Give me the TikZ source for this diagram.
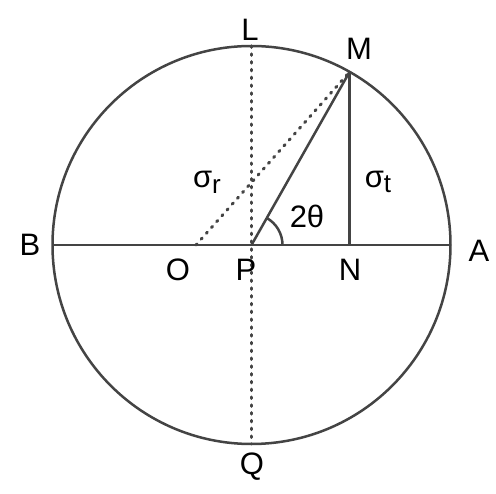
\documentclass[tikz,border=0pt]{standalone}
\usepackage{fontspec}
\setmainfont{Liberation Sans}
\usetikzlibrary{calc}
\definecolor{ink}{HTML}{444444}
\tikzset{
  lbl/.style={font=\fontsize{31}{31}\selectfont, inner sep=0pt},
  dotline/.style={ink, line width=3pt, line cap=round, dash pattern=on 1.5pt off 6.3pt},
  solid line/.style={ink, line width=2.5pt}
}
\begin{document}
\begin{tikzpicture}[x=1pt, y=-1pt]
    \useasboundingbox (0,0) rectangle (496,494);
    % circle and its points
    \coordinate (P) at (251.5,245);
    \draw[solid line] (P) circle[radius=199];
    \coordinate (B) at ($(P)+(-199,0)$);
    \coordinate (A) at ($(P)+(199,0)$);
    \coordinate (L) at ($(P)+(0,-199)$);
    \coordinate (Q) at ($(P)+(0,199)$);
    \coordinate (M) at ($(P)+(98,-173)$);
    \coordinate (N) at ($(P)+(98,0)$);
    \coordinate (O) at (196,245);
    % lines
    \draw[solid line] (B) -- (A);
    \draw[dotline] (L) -- (Q);
    \draw[dotline] (O) -- (M);
    \draw[solid line] (P) -- (M);
    \draw[solid line] (M) -- (N);
    \draw[solid line] ($(P)+(31,0)$) arc[start angle=0, end angle=-60.5, radius=31];
    % labels
    \node[lbl] (lL) at (250,30) {L};
    \node[lbl] (lM) at (359,49) {M};
    \node[lbl] (lB) at (30,245) {B};
    \node[lbl] (lA) at (479,251) {A};
    \node[lbl] (lO) at (178,270) {O};
    \node[lbl] (lP) at (246,270) {P};
    \node[lbl] (lN) at (350,270) {N};
    \node[lbl] (lQ) at (252,467) {Q};
    \node[lbl] (l2t) at (307,216) {2θ};
    \node[lbl] (lsr) at (207,182) {σ\raisebox{-0.35ex}{\fontsize{26}{26}\selectfont r}};
    \node[lbl] (lst) at (378,182) {σ\raisebox{-0.35ex}{\fontsize{26}{26}\selectfont t}};
\end{tikzpicture}
\end{document}
